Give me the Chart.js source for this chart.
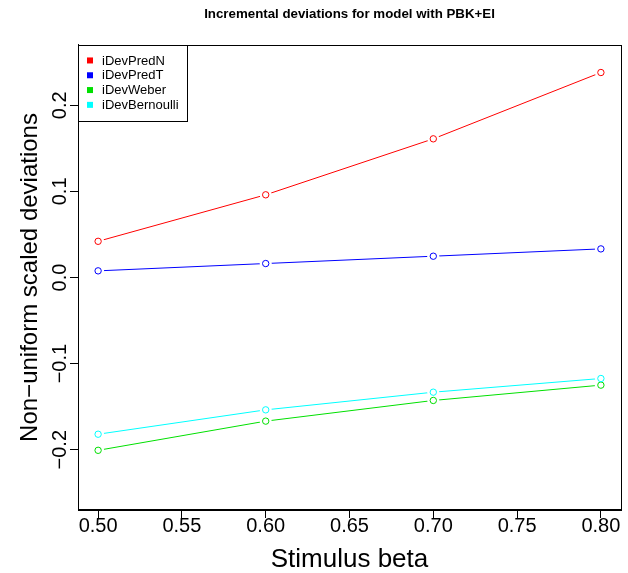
<!DOCTYPE html>
<html lang="en">
<head>
  <meta charset="utf-8">
  <title>Incremental deviations</title>
  <script src="https://cdn.jsdelivr.net/npm/chart.js@4.4.0/dist/chart.umd.min.js"></script>
  <style>
    body { margin: 0; background: #fff; }
    #wrap { width: 628px; height: 573px; }
  </style>
</head>
<body>
<div id="wrap"><canvas id="devChart" width="628" height="573"></canvas></div>
<script>
// stimulus beta values and the four deviation series
var beta = [0.50, 0.60, 0.70, 0.80];
var iDevPredN = [0.042, 0.096, 0.161, 0.238];
var iDevPredT = [0.0077, 0.0162, 0.0247, 0.0332];
var iDevWeber = [-0.2007, -0.1668, -0.1428, -0.125];
var iDevBernoulli = [-0.182, -0.1537, -0.1332, -0.1173];

var seriesNames = ['iDevPredN', 'iDevPredT', 'iDevWeber', 'iDevBernoulli'];
var seriesColors = ['#ff0000', '#0000ff', '#00e000', '#00ffff'];

var xTicks = [0.50, 0.55, 0.60, 0.65, 0.70, 0.75, 0.80];
var xTickLabels = ['0.50', '0.55', '0.60', '0.65', '0.70', '0.75', '0.80'];
var yTicks = [-0.2, -0.1, 0.0, 0.1, 0.2];
var yTickLabels = ['\u22120.2', '\u22120.1', '0.0', '0.1', '0.2'];

var font = '"Liberation Sans", Arial, Helvetica, sans-serif';

function pts(vals) {
  return beta.map(function (b, i) { return { x: b, y: vals[i] }; });
}

var allSeries = [iDevPredN, iDevPredT, iDevWeber, iDevBernoulli];
var datasets = allSeries.map(function (vals, i) {
  return {
    label: seriesNames[i],
    data: pts(vals),
    showLine: true,
    borderColor: seriesColors[i],
    borderWidth: 1,
    // white halo around each point leaves the gap in the line
    pointRadius: 6,
    pointBackgroundColor: '#ffffff',
    pointBorderWidth: 0,
    pointHoverRadius: 6
  };
});

// box, rotated y labels, axis titles, legend and the open circles
var rPlot = {
  id: 'rPlot',
  afterDatasetsDraw: function (chart) {
    var ctx = chart.ctx;
    ctx.save();
    chart.data.datasets.forEach(function (ds, i) {
      var meta = chart.getDatasetMeta(i);
      ctx.strokeStyle = ds.borderColor;
      ctx.lineWidth = 1;
      meta.data.forEach(function (p) {
        ctx.beginPath();
        ctx.arc(p.x, p.y, 3.2, 0, Math.PI * 2);
        ctx.stroke();
      });
    });
    ctx.restore();
  },
  afterDraw: function (chart) {
    var ctx = chart.ctx;
    var a = chart.chartArea;
    var ys = chart.scales.y;
    ctx.save();
    ctx.strokeStyle = '#000';
    ctx.lineWidth = 1;
    ctx.strokeRect(Math.round(a.left) + 0.5, Math.round(a.top) + 0.5,
      Math.round(a.right - a.left), Math.round(a.bottom - a.top));

    // y tick labels, parallel to the axis
    ctx.fillStyle = '#000';
    ctx.font = '20px ' + font;
    ctx.textAlign = 'center';
    ctx.textBaseline = 'alphabetic';
    yTicks.forEach(function (v, i) {
      var y = ys.getPixelForValue(v);
      ctx.save();
      ctx.translate(66, y);
      ctx.rotate(-Math.PI / 2);
      ctx.fillText(yTickLabels[i], 0, 0);
      ctx.restore();
    });

    // axis titles
    ctx.font = '24px ' + font;
    ctx.save();
    ctx.translate(37, (a.top + a.bottom) / 2);
    ctx.rotate(-Math.PI / 2);
    ctx.fillText('Non\u2212uniform scaled deviations', 0, 0);
    ctx.restore();
    ctx.font = '26px ' + font;
    ctx.textBaseline = 'middle';
    ctx.fillText('Stimulus beta', (a.left + a.right) / 2, 560);

    // legend in the top-left corner
    var lx = a.left, ly = a.top, lw = 109, lh = 76;
    ctx.fillStyle = '#fff';
    ctx.fillRect(lx, ly, lw, lh);
    ctx.strokeStyle = '#000';
    ctx.strokeRect(Math.round(lx) + 0.5, Math.round(ly) + 0.5, lw, lh);
    ctx.font = '13px ' + font;
    ctx.textAlign = 'left';
    ctx.textBaseline = 'middle';
    seriesNames.forEach(function (name, i) {
      var cy = ly + 15.5 + i * 14.8;
      ctx.fillStyle = seriesColors[i];
      ctx.fillRect(lx + 9, cy - 3, 6, 6);
      ctx.fillStyle = '#000';
      ctx.fillText(name, lx + 24, cy + 0.5);
    });
    ctx.restore();
  }
};

new Chart(document.getElementById('devChart'), {
  type: 'scatter',
  data: { datasets: datasets },
  options: {
    responsive: false,
    animation: false,
    layout: { padding: { left: 0, right: 7, top: 0, bottom: 0 } },
    plugins: {
      legend: { display: false },
      tooltip: { enabled: false },
      title: {
        display: true,
        text: 'Incremental deviations for model with PBK+EI',
        fullSize: false,
        color: '#000',
        font: { family: font, size: 13.3, weight: 'bold' },
        padding: { top: 6, bottom: 23 }
      }
    },
    scales: {
      x: {
        type: 'linear',
        min: 0.488,
        max: 0.812,
        afterBuildTicks: function (s) {
          s.ticks = xTicks.map(function (v) { return { value: v }; });
        },
        afterFit: function (s) { s.height = 63; },
        ticks: {
          color: '#000',
          font: { family: font, size: 20 },
          padding: -4,
          maxRotation: 0,
          callback: function (v) {
            var k = xTicks.indexOf(Math.round(v * 100) / 100);
            return k >= 0 ? xTickLabels[k] : '';
          }
        },
        grid: { drawOnChartArea: false, drawTicks: true, tickLength: 8, color: '#000', tickWidth: 1 },
        border: { display: true, color: '#000', width: 1 }
      },
      y: {
        type: 'linear',
        min: -0.27,
        max: 0.27,
        afterBuildTicks: function (s) {
          s.ticks = yTicks.map(function (v) { return { value: v }; });
        },
        afterFit: function (s) { s.width = 78; },
        ticks: { display: false },
        grid: { drawOnChartArea: false, drawTicks: true, tickLength: 8, color: '#000', tickWidth: 1 },
        border: { display: true, color: '#000', width: 1 }
      }
    }
  },
  plugins: [rPlot]
});
</script>
</body>
</html>
